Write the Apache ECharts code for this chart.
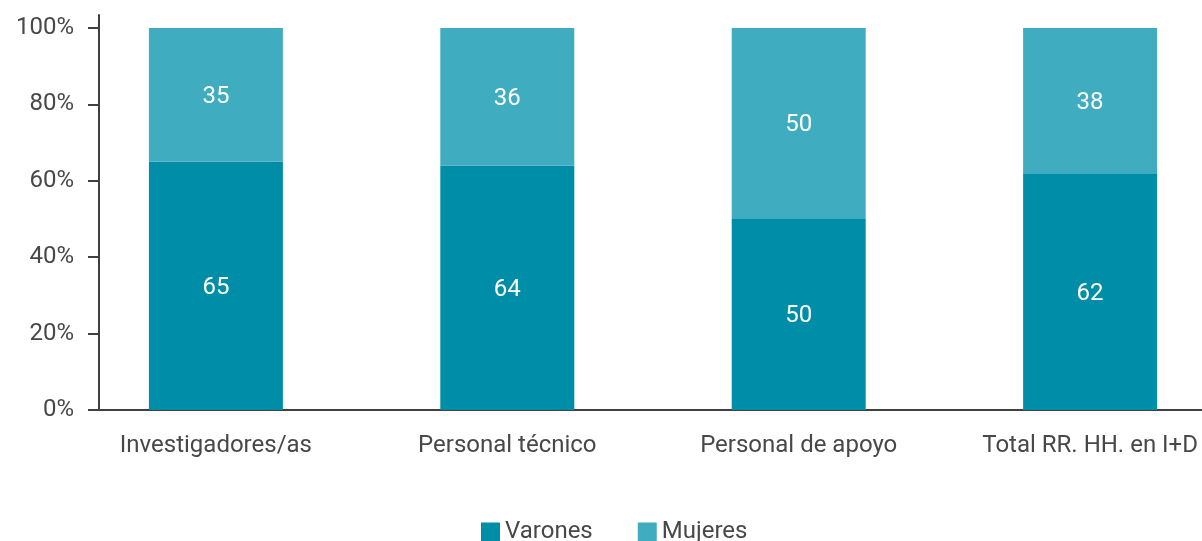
<!DOCTYPE html>
<html><head><meta charset="utf-8">
<script src="https://cdn.jsdelivr.net/npm/echarts@6/dist/echarts.min.js"></script>
<style>html,body{margin:0;padding:0;background:#fff}#c{width:1202px;height:541px}</style>
</head><body><div id="c"></div>
<script>
const categories = ['Investigadores/as', 'Personal técnico', 'Personal de apoyo', 'Total RR. HH. en I+D'];
const varones = [65, 64, 50, 62];
const mujeres = [35, 36, 50, 38];
const yTicks = [0, 20, 40, 60, 80, 100];
const seriesNames = ['Varones', 'Mujeres'];

const font = 'Roboto';
const txt = '#484848';
const axisCol = '#404040';
const chart = echarts.init(document.getElementById('c'));
const lbl = {show: true, position: 'inside', offset: [0, 2], color: '#ffffff', fontFamily: font, fontSize: 24};
chart.setOption({
  animation: false,
  grid: [
    {left: 70.2, width: 1165.6, top: 15, bottom: 131, outerBoundsMode: 'none', containLabel: false},
    {left: 99, right: 0, top: 15, bottom: 131, outerBoundsMode: 'none', containLabel: false}
  ],
  legend: {
    top: 515, left: 476, itemWidth: 19, itemHeight: 19, itemGap: 45, icon: 'rect',
    textStyle: {fontFamily: font, fontSize: 24, color: txt},
    data: seriesNames
  },
  xAxis: [
    {
      gridIndex: 0, type: 'category', data: categories,
      axisLine: {show: false}, axisTick: {show: false},
      axisLabel: {margin: 24, fontFamily: font, fontSize: 24, color: txt, interval: 0}
    },
    {
      gridIndex: 1, type: 'value', min: 0, max: 1,
      splitLine: {show: false}, axisTick: {show: false}, axisLabel: {show: false},
      axisLine: {show: true, onZero: false, lineStyle: {color: axisCol, width: 2}}
    }
  ],
  yAxis: [
    {gridIndex: 0, type: 'value', min: 0, max: 103.4, show: false},
    {
      gridIndex: 1, type: 'value', min: 0, max: 103.4,
      splitLine: {show: false},
      axisLine: {show: true, onZero: false, lineStyle: {color: axisCol, width: 2}},
      axisTick: {show: true, length: 11, customValues: yTicks, lineStyle: {color: axisCol, width: 2}},
      axisLabel: {customValues: yTicks, margin: 25, fontFamily: font, fontSize: 24, color: txt, formatter: '{value}%'}
    }
  ],
  series: [
    {name: seriesNames[0], type: 'bar', stack: 's', barWidth: 134, xAxisIndex: 0, yAxisIndex: 0,
     itemStyle: {color: '#008DA7'}, label: lbl, data: varones},
    {name: seriesNames[1], type: 'bar', stack: 's', barWidth: 134, xAxisIndex: 0, yAxisIndex: 0,
     itemStyle: {color: '#40ACC0'}, label: lbl, data: mujeres}
  ]
});
</script></body></html>
